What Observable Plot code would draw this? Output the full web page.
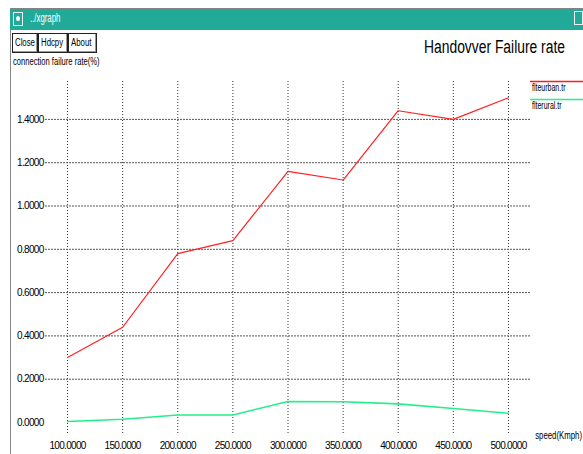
<!DOCTYPE html>
<html>
<head>
<meta charset="utf-8">
<script src="https://cdn.jsdelivr.net/npm/d3@7"></script>
<script src="https://cdn.jsdelivr.net/npm/@observablehq/plot@0.6"></script>
<style>
  html, body { margin: 0; padding: 0; background: #fff; }
  #wrap { position: relative; width: 583px; height: 454px; overflow: hidden; background: #fff;
    font-family: "Liberation Sans", Arial, sans-serif; }
  #chart { position: absolute; left: 0; top: 0; }
  .abs { position: absolute; white-space: nowrap; }
  .nar { display: inline-block; transform-origin: 0 50%; }
  #titlebar { left: 10px; top: 8px; width: 573px; height: 21px; background: #22aa99; border-top: 1px dotted #888; }
  #tbicon { left: 13px; top: 12px; width: 8px; height: 12px; border: 1px solid #eee; background: #22aa99; }
  #tbicon::after { content: ""; position: absolute; left: 2px; top: 3px; width: 4px; height: 5px; border-radius: 50%; background: #fff; }
  #tbtext { left: 30px; top: 10px; font-size: 13px; color: #fff; }
  #tbright { left: 574px; top: 11px; width: 7px; height: 12px; border: 1px solid #eee; }
  #leftline { left: 10px; top: 30px; width: 1px; height: 424px; background: #888; }
  .btn { top: 33px; height: 18px; border: 1px solid #222; background: #fff; font-size: 10px; line-height: 18px; color: #000; box-shadow: inset -1px -1px 0 #999; }
  .btn .nar { position: absolute; left: 2px; transform: scaleX(0.78); }
  #title { left: 424px; top: 37px; font-size: 18px; color: #000; }
  #ylab { left: 13px; top: 56px; font-size: 10px; color: #000; }
  #xlab { right: 1px; top: 430px; font-size: 10px; color: #000; }
  #xlab .nar { transform-origin: 100% 50%; }
  .legsw { left: 530px; width: 53px; height: 3px; display: block; }
  .legtext { left: 532px; font-size: 10px; color: #000; }
</style>
</head>
<body>
<div id="wrap">
  <div id="chart"></div>
  <div class="abs" id="titlebar"></div>
  <div class="abs" id="tbicon"></div>
  <div class="abs" id="tbtext"><span class="nar" style="transform:scaleX(0.6)">../xgraph</span></div>
  <div class="abs" id="tbright"></div>
  <div class="abs" id="leftline"></div>
  <div class="abs btn" style="left:12px;width:24px;"><span class="nar">Close</span></div>
  <div class="abs btn" style="left:38px;width:28px;"><span class="nar">Hdcpy</span></div>
  <div class="abs btn" style="left:68px;width:27px;"><span class="nar">About</span></div>
  <div class="abs" id="title"><span class="nar" style="transform:scaleX(0.77)">Handovver Failure rate</span></div>
  <div class="abs" id="ylab"><span class="nar" style="transform:scaleX(0.76)">connection failure rate(%)</span></div>
  <div class="abs" id="xlab"><span class="nar" style="transform:scaleX(0.78)">speed(Kmph)</span></div>
  <svg class="abs legsw" style="top:80px;"><line x1="0" x2="53" y1="1.5" y2="1.5" stroke="#ff1a1a" stroke-width="1.5"/></svg>
  <div class="abs legtext" style="top:82px;"><span class="nar" style="transform:scaleX(0.7)">flteurban.tr</span></div>
  <svg class="abs legsw" style="top:98px;"><line x1="0" x2="53" y1="1.5" y2="1.5" stroke="#22f08a" stroke-width="1.5"/></svg>
  <div class="abs legtext" style="top:100px;"><span class="nar" style="transform:scaleX(0.7)">flterural.tr</span></div>
</div>
<script>
const speeds = [100, 150, 200, 250, 300, 350, 400, 450, 500];
const urbanRate = [0.30, 0.44, 0.78, 0.84, 1.16, 1.12, 1.44, 1.40, 1.50];
const ruralRate = [0.005, 0.015, 0.035, 0.035, 0.097, 0.096, 0.086, 0.065, 0.043];
const seriesNames = ["flteurban.tr", "flterural.tr"];
const yTicks = [0, 0.2, 0.4, 0.6, 0.8, 1.0, 1.2, 1.4];
const yGridTicks = [0.2, 0.4, 0.6, 0.8, 1.0, 1.2, 1.4];

const urban = speeds.map((s, i) => ({speed: s, rate: urbanRate[i], series: seriesNames[0]}));
const rural = speeds.map((s, i) => ({speed: s, rate: ruralRate[i], series: seriesNames[1]}));

const fmt = d3.format(".4f");
const chart = Plot.plot({
  width: 583,
  height: 454,
  marginLeft: 45,
  marginRight: 53,
  marginTop: 81,
  marginBottom: 19,
  style: {fontFamily: '"Liberation Sans", Arial, sans-serif', fontSize: "10px", letterSpacing: "-0.7px", background: "transparent", color: "#000"},
  x: {domain: [80, 520], axis: null},
  y: {domain: [-0.06, 1.575], axis: null},
  marks: [
    Plot.ruleX(speeds, {x: d => d, stroke: "#333", strokeDasharray: "1,2", strokeWidth: 1}),
    Plot.ruleY(yGridTicks, {y: d => d, stroke: "#555", strokeDasharray: "2,1", strokeWidth: 1}),
    Plot.axisY(yTicks, {anchor: "left", tickSize: 0, tickPadding: 2, tickFormat: fmt, label: null, fill: "#000"}),
    Plot.axisX(speeds, {anchor: "bottom", tickSize: 0, tickPadding: 6, tickFormat: fmt, label: null, fill: "#000"}),
    Plot.line(urban, {x: "speed", y: "rate", stroke: "#ff2020", strokeWidth: 1.2}),
    Plot.line(rural, {x: "speed", y: "rate", stroke: "#22f08a", strokeWidth: 1.6})
  ]
});
document.getElementById("chart").appendChild(chart);
</script>
</body>
</html>
